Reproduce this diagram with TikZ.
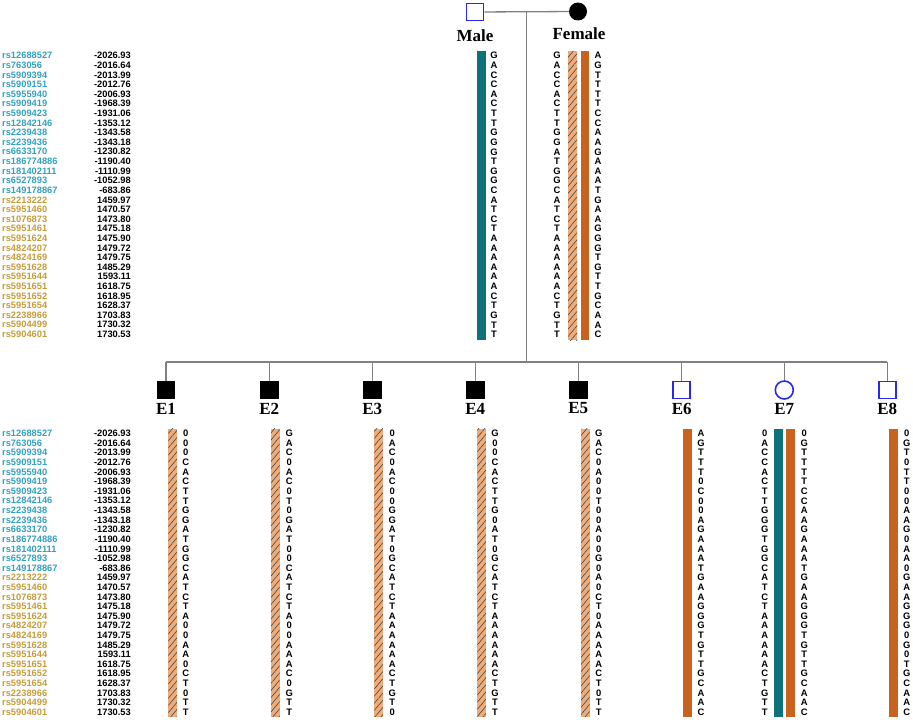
\documentclass[tikz,border=0pt]{standalone}
\usepackage{fontspec}
\setmainfont{Liberation Serif}
\setsansfont{Liberation Sans}
\usetikzlibrary{positioning}
\usetikzlibrary{calc}
\usetikzlibrary{patterns.meta}

\definecolor{tealhap}{RGB}{14,114,122}
\definecolor{rusthap}{RGB}{199,99,31}
\definecolor{peachhap}{RGB}{238,172,122}
\definecolor{snpblue}{RGB}{52,160,190}
\definecolor{snpgold}{RGB}{196,156,58}
\definecolor{pedblue}{RGB}{40,40,240}
\definecolor{pedline}{RGB}{128,128,128}

% one column of alleles: name, x, first row y, alleles
\newcommand{\allelecol}[4]{%
  \foreach \al [count=\k from 0] in {#4}
    \node[allele] (#1-\k) at (#2,{#3+9.61*\k}) {\al};}

\begin{document}
\begin{tikzpicture}[x=1pt, y=-1pt,
    tag/.style={font=\bfseries\fontsize{17}{17}\selectfont, inner sep=0pt},
    allele/.style={font=\sffamily\bfseries\fontsize{9.4}{9.4}\selectfont, inner sep=0pt},
    snp/.style={font=\sffamily\bfseries\fontsize{9.3}{9.3}\selectfont, inner sep=0pt},
    unaff/.style={draw=pedblue, line width=1.6pt, fill=white, minimum size=17pt, inner sep=0pt},
    affected/.style={fill=black, minimum size=18.5pt, inner sep=0pt},
    peachbar/.style={preaction={fill=peachhap}, pattern={Lines[angle=50,distance=4.6pt,line width=0.55pt]}, pattern color=black!75},
    rustbar/.style={fill=rusthap},
    tealbar/.style={fill=tealhap},
    link/.style={draw=pedline, line width=1.3pt}]

\useasboundingbox (0,0) rectangle (913,720);

% Parents
\node[unaff] (male) at (475,12) {};
\node[circle, fill=black, minimum size=18pt, inner sep=0pt] (female) at (578,11.5) {};
\node[tag] (malelab) at (475,36) {Male};
\node[tag] (femalelab) at (579,34) {Female};

% Pedigree lines
\coordinate (mid) at ($(male)!0.5!(female)$);
\coordinate (sib) at (mid |- 0,362);
\draw[link] (male) -- (female);
\draw[link] (mid) -- (sib);

% Children
\foreach \n/\x/\kind in {1/166/affected, 2/269.3/affected, 3/372.3/affected, 4/475.3/affected,
    5/578.3/affected, 6/681.7/unaff, 7/784.3/unaff, 8/887.3/unaff} {
  \ifnum\n=7
    \node[unaff, circle, minimum size=18pt] (E\n) at (\x,390) {};
  \else
    \node[\kind] (E\n) at (\x,390) {};
  \fi
  \node[tag] (E\n-lab) at (\x,408.5) {E\n};
}
\draw[link] (E1 |- sib) -- (E8 |- sib);
\foreach \n in {1,...,8}
  \draw[link] (E\n |- sib) -- (E\n);

% SNP names and positions, top and bottom
\foreach \top/\tb in {55.7/t, 433.5/b} {
  \foreach \id/\bp [count=\k from 0] in {rs12688527/-2026.93, rs763056/-2016.64, rs5909394/-2013.99,
      rs5909151/-2012.76, rs5955940/-2006.93, rs5909419/-1968.39, rs5909423/-1931.06,
      rs12842146/-1353.12, rs2239438/-1343.58, rs2239436/-1343.18, rs6633170/-1230.82,
      rs186774886/-1190.40, rs181402111/-1110.99, rs6527893/-1052.98, rs149178867/-683.86,
      rs2213222/1459.97, rs5951460/1470.57, rs1076873/1473.80, rs5951461/1475.18,
      rs5951624/1475.90, rs4824207/1479.72, rs4824169/1479.75, rs5951628/1485.29,
      rs5951644/1593.11, rs5951651/1618.75, rs5951652/1618.95, rs5951654/1628.37,
      rs2238966/1703.83, rs5904499/1730.32, rs5904601/1730.53} {
    \ifnum\k<15 \def\snpcol{snpblue}\else\def\snpcol{snpgold}\fi
    \node[snp, anchor=west, text=\snpcol] (\tb-id-\k) at (2,{\top+9.61*\k}) {\id};
    \node[snp, anchor=east] (\tb-bp-\k) at (131,{\top+9.61*\k}) {\bp};
  }
}

% Parent haplotypes
\fill[tealbar] (477,51) rectangle (486,340);
\fill[peachbar] (568,51) rectangle (577,340);
\fill[rustbar] (580.5,51) rectangle (589,340);
\allelecol{m}{494}{55.7}{G,A,C,C,A,C,T,T,G,G,G,T,G,G,C,A,T,C,T,A,A,A,A,A,A,C,T,G,T,T}
\allelecol{fl}{557}{55.7}{G,A,C,C,A,C,T,T,G,G,A,T,G,G,C,A,T,C,T,A,A,A,A,A,A,C,T,G,T,T}
\allelecol{fr}{598}{55.7}{A,G,T,T,T,T,C,C,A,A,G,A,A,A,T,G,A,A,G,G,G,T,G,T,T,G,C,A,A,C}

% Children haplotypes
\foreach \x in {168.3,271,374.3,477.3,581}
  \fill[peachbar] (\x,428.5) rectangle ++(8.5,288);
\foreach \x in {683.3,786.3,889.3}
  \fill[rustbar] (\x,428.5) rectangle ++(8.5,288);
\fill[tealbar] (774,428.5) rectangle ++(8.5,288);

\allelecol{e1}{185.7}{433.5}{0,0,0,C,A,C,T,T,G,G,A,T,G,G,C,A,T,C,T,A,0,0,A,A,0,C,T,0,T,T}
\allelecol{e2}{289.3}{433.5}{G,A,C,0,A,C,0,T,0,G,A,T,0,0,C,A,T,C,T,A,0,0,A,A,A,C,0,G,T,T}
\allelecol{e3}{392.3}{433.5}{0,A,C,0,A,C,0,0,G,G,A,T,0,G,C,A,T,C,T,A,A,A,A,A,A,C,T,G,T,0}
\allelecol{e4}{495}{433.5}{G,0,0,C,A,C,T,T,G,0,A,T,0,G,C,A,T,C,T,A,A,A,A,A,A,C,T,G,T,T}
\allelecol{e5}{598.7}{433.5}{G,A,C,0,A,0,0,T,0,0,A,0,0,G,0,A,0,C,T,0,A,A,A,A,A,C,T,0,T,T}
\allelecol{e6}{701}{433.5}{A,G,T,T,T,0,C,0,0,A,G,A,A,A,T,G,A,A,G,G,G,T,G,T,T,G,C,A,A,C}
\allelecol{e7l}{764.7}{433.5}{0,A,C,C,A,C,T,T,G,G,G,T,G,G,C,A,T,C,T,A,A,A,A,A,A,C,T,G,T,T}
\allelecol{e7r}{804.3}{433.5}{0,G,T,T,T,T,C,C,A,A,G,A,A,A,T,G,A,A,G,G,G,T,G,T,T,G,C,A,A,C}
\allelecol{e8}{906.7}{433.5}{0,G,T,0,T,T,0,0,A,A,G,0,A,A,0,G,A,A,G,G,G,0,G,0,T,G,C,A,A,C}
\end{tikzpicture}
\end{document}
